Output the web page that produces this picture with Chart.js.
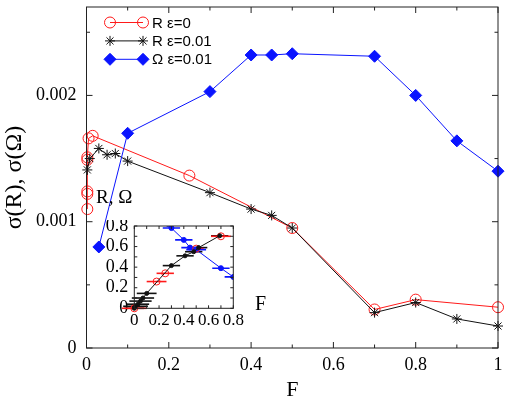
<!DOCTYPE html>
<html>
<head>
<meta charset="utf-8">
<script src="https://cdn.jsdelivr.net/npm/chart.js@4/dist/chart.umd.min.js"></script>
<style>
  body { margin: 0; background: #fff; }
  #wrap { position: relative; width: 505px; height: 397px; }
  #main { position: absolute; left: 0; top: 0; }
  #inset { position: absolute; left: 95px; top: 220px; }
  .lbl { position: absolute; font-family: "Liberation Serif", serif; color: #000; white-space: nowrap; }
</style>
</head>
<body>
<div id="wrap">
  <canvas id="main" width="505" height="397"></canvas>
  <canvas id="inset" width="155" height="115"></canvas>
  <div class="lbl" id="insetY" style="left:96px; top:186px; font-size:19px;">R, Ω</div>
  <div class="lbl" id="insetX" style="left:255px; top:292px; font-size:20px;">F</div>
</div>
<script>
// main plot: sigma vs F
var fR0 = [0.002, 0.002, 0.002, 0.002, 0.002, 0.005, 0.015, 0.25, 0.5, 0.7, 0.8, 1.0];
var sigR0 = [0.00110, 0.00122, 0.00124, 0.00149, 0.00151, 0.00166, 0.00168, 0.001365, 0.00095, 0.000305, 0.000383, 0.000323];

var fR1 = [0.002, 0.008, 0.03, 0.05, 0.07, 0.1, 0.3, 0.4, 0.45, 0.5, 0.7, 0.8, 0.9, 1.0];
var sigR1 = [0.00141, 0.00150, 0.00158, 0.00153, 0.00154, 0.00148, 0.00123, 0.00110, 0.00105, 0.00095, 0.00028, 0.00036, 0.00023, 0.000174];

var fW1 = [0.03, 0.1, 0.3, 0.4, 0.45, 0.5, 0.7, 0.8, 0.9, 1.0];
var sigW1 = [0.00080, 0.00170, 0.00203, 0.00232, 0.00232, 0.00233, 0.00231, 0.00200, 0.00164, 0.00140];

var xTicksMain = [0, 0.1, 0.2, 0.3, 0.4, 0.5, 0.6, 0.7, 0.8, 0.9, 1.0];
var yTicksMain = [0, 0.0005, 0.001, 0.0015, 0.002, 0.0025];

// inset: R, Omega vs F with horizontal error bars
var insF_R0 = [0, 0.18, 0.25, 0.5, 0.7];
var insV_R0 = [0, 0.26, 0.34, 0.58, 0.70];
var insE_R0 = [0.1, 0.08, 0.07, 0.06, 0.08];

var insF_R1 = [0, 0.01, 0.03, 0.05, 0.07, 0.1, 0.3, 0.41, 0.48, 0.52, 0.69];
var insV_R1 = [0, 0.02, 0.04, 0.07, 0.1, 0.145, 0.415, 0.51, 0.55, 0.59, 0.705];
var insE_R1 = [0.08, 0.1, 0.09, 0.09, 0.09, 0.08, 0.07, 0.07, 0.07, 0.07, 0.07];

var insF_W1 = [0.1, 0.3, 0.4, 0.45, 0.5, 0.7, 0.8];
var insV_W1 = [0.89, 0.78, 0.665, 0.59, 0.57, 0.39, 0.305];
var insE_W1 = [0.07, 0.07, 0.07, 0.07, 0.08, 0.07, 0.07];

var insTicks = [0, 0.1, 0.2, 0.3, 0.4, 0.5, 0.6, 0.7, 0.8];

var serif = "'Liberation Serif', 'Times New Roman', serif";

function pts(xs, ys) {
  return xs.map(function (x, i) { return { x: x, y: ys[i] }; });
}

function isMajor(v, step) {
  return Math.abs(v / step - Math.round(v / step)) < 1e-6;
}

function fixSize(prop, val) {
  return function (s) {
    s[prop] = val;
    s.paddingTop = 0; s.paddingBottom = 0; s.paddingLeft = 0; s.paddingRight = 0;
  };
}

// frame + inward ticks on all four sides
var frameTicks = {
  id: "frameTicks",
  afterDraw: function (chart, args, opts) {
    var ctx = chart.ctx, a = chart.chartArea;
    var x = chart.scales.x, y = chart.scales.y;
    ctx.save();
    ctx.strokeStyle = "#222";
    ctx.lineWidth = 1;
    ctx.strokeRect(a.left, a.top, a.right - a.left, a.bottom - a.top);
    ctx.beginPath();
    x.ticks.forEach(function (t) {
      var px = x.getPixelForValue(t.value);
      var len = t.label !== "" ? opts.major : opts.minor;
      ctx.moveTo(px, a.bottom); ctx.lineTo(px, a.bottom - len);
      ctx.moveTo(px, a.top); ctx.lineTo(px, a.top + len);
    });
    y.ticks.forEach(function (t) {
      var py = y.getPixelForValue(t.value);
      var len = t.label !== "" ? opts.major : opts.minor;
      ctx.moveTo(a.left, py); ctx.lineTo(a.left + len, py);
      ctx.moveTo(a.right, py); ctx.lineTo(a.right - len, py);
    });
    ctx.stroke();
    ctx.restore();
  }
};

// legend: line with marker on both ends, like the original
var lineLegend = {
  id: "lineLegend",
  afterDatasetsDraw: function (chart) {
    var ctx = chart.ctx;
    chart.data.datasets.forEach(function (ds, i) {
      var yy = 22.5 + i * 18.4;
      var x0 = 110, x1 = 143;
      ctx.save();
      ctx.strokeStyle = ds.borderColor;
      ctx.lineWidth = 1;
      ctx.beginPath(); ctx.moveTo(x0, yy); ctx.lineTo(x1, yy); ctx.stroke();
      var st = { pointStyle: ds.pointStyle, radius: ds.pointRadius, rotation: 0, borderWidth: ds.pointBorderWidth || 1 };
      ctx.fillStyle = ds.pointBackgroundColor;
      ctx.strokeStyle = ds.pointBorderColor;
      Chart.helpers.drawPoint(ctx, st, x0, yy);
      Chart.helpers.drawPoint(ctx, st, x1, yy);
      ctx.fillStyle = "#000";
      ctx.font = "15px 'Liberation Sans', Arial, sans-serif";
      ctx.textBaseline = "middle";
      ctx.fillText(ds.label, 152, yy + 1);
      ctx.restore();
    });
  }
};

// horizontal error bars for the inset
var errBars = {
  id: "errBars",
  beforeDatasetsDraw: function (chart) {
    var ctx = chart.ctx, x = chart.scales.x, y = chart.scales.y, a = chart.chartArea;
    chart.data.datasets.forEach(function (ds) {
      ctx.save();
      if (ds.clip !== false) {
        ctx.beginPath();
        ctx.rect(a.left, a.top, a.right - a.left, a.bottom - a.top);
        ctx.clip();
      }
      ctx.strokeStyle = ds.borderColor;
      ctx.lineWidth = 1.6;
      ds.data.forEach(function (p, i) {
        var e = ds.errX[i];
        var py = y.getPixelForValue(p.y);
        ctx.beginPath();
        ctx.moveTo(x.getPixelForValue(p.x - e), py);
        ctx.lineTo(x.getPixelForValue(p.x + e), py);
        ctx.stroke();
      });
      ctx.restore();
    });
  }
};

new Chart(document.getElementById("main"), {
  type: "line",
  data: {
    datasets: [
      {
        label: "R ε=0",
        data: pts(fR0, sigR0),
        borderColor: "#ff1a1a",
        borderWidth: 1,
        pointStyle: "circle",
        pointRadius: 5.5,
        pointBackgroundColor: "rgba(0,0,0,0)",
        pointBorderColor: "#ff1a1a",
        pointBorderWidth: 1,
        clip: false,
        order: 3
      },
      {
        label: "R ε=0.01",
        data: pts(fR1, sigR1),
        borderColor: "#111",
        borderWidth: 1,
        pointStyle: "star",
        pointRadius: 5,
        pointBackgroundColor: "#111",
        pointBorderColor: "#111",
        pointBorderWidth: 1,
        clip: false,
        order: 2
      },
      {
        label: "Ω ε=0.01",
        data: pts(fW1, sigW1),
        borderColor: "#0a14ff",
        borderWidth: 1,
        pointStyle: "rectRot",
        pointRadius: 6,
        pointBackgroundColor: "#0a14ff",
        pointBorderColor: "#0a14ff",
        pointBorderWidth: 1,
        clip: false,
        order: 1
      }
    ]
  },
  options: {
    responsive: false,
    animation: false,
    devicePixelRatio: 1,
    layout: { padding: { left: 0, right: 6, top: 3, bottom: 0 } },
    plugins: {
      legend: { display: false },
      tooltip: { enabled: false },
      frameTicks: { major: 6, minor: 3.5 }
    },
    scales: {
      x: {
        type: "linear",
        min: 0,
        max: 1,
        afterBuildTicks: function (s) { s.ticks = xTicksMain.map(function (v) { return { value: v }; }); },
        afterFit: fixSize("height", 49),
        grid: { display: false, drawTicks: false },
        border: { display: false },
        ticks: {
          padding: 6,
          maxRotation: 0,
          autoSkip: false,
          color: "#000",
          font: { family: serif, size: 18 },
          callback: function (v) { return isMajor(v, 0.2) ? String(+v.toFixed(2)) : ""; }
        },
        title: {
          display: true,
          text: "F",
          color: "#000",
          font: { family: serif, size: 22 },
          padding: { top: 0, bottom: -6 }
        }
      },
      y: {
        type: "linear",
        min: 0,
        max: 0.0027,
        afterBuildTicks: function (s) { s.ticks = yTicksMain.map(function (v) { return { value: v }; }); },
        afterFit: fixSize("width", 86.5),
        grid: { display: false, drawTicks: false },
        border: { display: false },
        ticks: {
          padding: 10,
          autoSkip: false,
          color: "#000",
          font: { family: serif, size: 18 },
          callback: function (v) { return isMajor(v, 0.001) ? String(+v.toFixed(4)) : ""; }
        },
        title: {
          display: true,
          text: "σ(R), σ(Ω)",
          color: "#000",
          font: { family: serif, size: 24 },
          padding: { top: 0, bottom: 0 }
        }
      }
    }
  },
  plugins: [frameTicks, lineLegend]
});

function insetSet(label, xs, ys, es, color, style, radius, fill) {
  return {
    label: label,
    data: pts(xs, ys),
    errX: es,
    borderColor: color,
    borderWidth: 1,
    pointStyle: style,
    pointRadius: radius,
    pointBackgroundColor: fill,
    pointBorderColor: color,
    pointBorderWidth: 1
  };
}

var insR1 = insetSet("R ε=0.01", insF_R1, insV_R1, insE_R1, "#111", "circle", 2, "#111");
insR1.clip = false;
var insR0 = insetSet("R ε=0", insF_R0, insV_R0, insE_R0, "#ff1a1a", "circle", 3.5, "rgba(0,0,0,0)");
insR0.clip = false;
insR0.showLine = false;
var insW1 = insetSet("Ω ε=0.01", insF_W1, insV_W1, insE_W1, "#0a14ff", "circle", 2.5, "#0a14ff");

new Chart(document.getElementById("inset"), {
  type: "line",
  data: { datasets: [insR1, insR0, insW1] },
  options: {
    responsive: false,
    animation: false,
    devicePixelRatio: 1,
    layout: { padding: { left: 0, right: 16.7, top: 6, bottom: 0 } },
    plugins: {
      legend: { display: false },
      tooltip: { enabled: false },
      frameTicks: { major: 3, minor: 3 }
    },
    scales: {
      x: {
        type: "linear",
        min: 0,
        max: 0.8,
        afterBuildTicks: function (s) { s.ticks = insTicks.map(function (v) { return { value: v }; }); },
        afterFit: fixSize("height", 26.7),
        grid: { display: false, drawTicks: false },
        border: { display: false },
        ticks: {
          padding: 2,
          maxRotation: 0,
          autoSkip: false,
          color: "#000",
          font: { family: serif, size: 17 },
          callback: function (v) { return isMajor(v, 0.2) ? String(+v.toFixed(1)) : ""; }
        }
      },
      y: {
        type: "linear",
        min: 0,
        max: 0.8,
        afterBuildTicks: function (s) { s.ticks = insTicks.map(function (v) { return { value: v }; }); },
        afterFit: fixSize("width", 39.3),
        grid: { display: false, drawTicks: false },
        border: { display: false },
        ticks: {
          padding: 6,
          autoSkip: false,
          color: "#000",
          font: { family: serif, size: 18 },
          callback: function (v) { return isMajor(v, 0.2) ? String(+v.toFixed(1)) : ""; }
        }
      }
    }
  },
  plugins: [errBars, frameTicks]
});
</script>
</body>
</html>
